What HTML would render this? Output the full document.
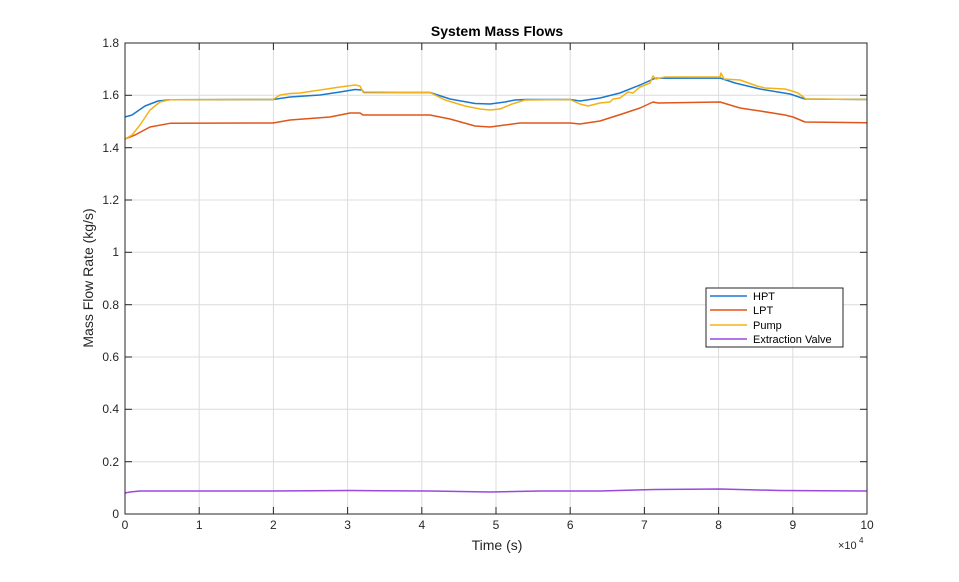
<!DOCTYPE html>
<html><head><style>body{margin:0;background:#fff}svg text{font-family:"Liberation Sans",Arial,sans-serif}</style></head><body>
<svg width="959" height="577" viewBox="0 0 959 577" xmlns="http://www.w3.org/2000/svg">
<rect width="959" height="577" fill="#fff"/>
<g stroke="#dcdcdc" stroke-width="1">
<line x1="199.2" y1="43" x2="199.2" y2="514"/><line x1="273.4" y1="43" x2="273.4" y2="514"/><line x1="347.6" y1="43" x2="347.6" y2="514"/><line x1="421.8" y1="43" x2="421.8" y2="514"/><line x1="496" y1="43" x2="496" y2="514"/><line x1="570.2" y1="43" x2="570.2" y2="514"/><line x1="644.4" y1="43" x2="644.4" y2="514"/><line x1="718.6" y1="43" x2="718.6" y2="514"/><line x1="792.8" y1="43" x2="792.8" y2="514"/>
<line x1="125" y1="461.7" x2="867" y2="461.7"/><line x1="125" y1="409.3" x2="867" y2="409.3"/><line x1="125" y1="357" x2="867" y2="357"/><line x1="125" y1="304.7" x2="867" y2="304.7"/><line x1="125" y1="252.3" x2="867" y2="252.3"/><line x1="125" y1="200" x2="867" y2="200"/><line x1="125" y1="147.7" x2="867" y2="147.7"/><line x1="125" y1="95.3" x2="867" y2="95.3"/>
</g>
<g fill="none" stroke-width="1.5" stroke-linejoin="round">
<polyline stroke="#9a48de" points="125,493 130,492 140,491 270,491 350,490.5 430,491 490,492 540,491 600,491 655,489.5 720,489 780,490.5 867,491"/>
<polyline stroke="#e0561a" points="125,139 135,135 150,127 170,123.3 273,123 290,120 330,117 350,113 360,113 363,115 430,115 450,119 475,126 490,127 505,125 520,123 570,123 580,124 600,121 625,113 640,108 653,102 658,103 720,102 740,108 760,111 785,115 793,117 805,122 867,122.8"/>
<polyline stroke="#1a78d0" points="125,117 132,115 145,106 158,101 170,99.7 273,99.5 290,97 320,95 340,92 355,89.5 362,90 364,92.5 430,92.5 450,99 475,103.5 490,104 505,102 515,100 525,99.5 570,99.5 580,101 600,98 620,93 640,85 655,78.3 720,78 735,83 760,89 790,94 805,99 867,99.5"/>
<polyline stroke="#f2b316" points="125,139 132,135 140,125 150,110 160,102 170,99.7 273,99.5 280,95 290,93.5 300,93 320,90 340,87 355,85 360,86 363,92 430,92.5 445,100 465,106 480,109 490,110 500,109 512,104 525,100 570,99.5 580,104 588,106 600,103 610,102 613,99 620,98 628,92 633,93 640,87 650,83 653,76 656,79 660,78 665,77 720,77 721,73 724,79 740,80 757,86 765,88 785,89 792,91 798,93 806,99 867,99.5"/>
</g>
<rect x="125" y="43" width="742" height="471" fill="none" stroke="#262626" stroke-width="1"/>
<g stroke="#262626" stroke-width="1">
<line x1="199.2" y1="514" x2="199.2" y2="507"/><line x1="273.4" y1="514" x2="273.4" y2="507"/><line x1="347.6" y1="514" x2="347.6" y2="507"/><line x1="421.8" y1="514" x2="421.8" y2="507"/><line x1="496" y1="514" x2="496" y2="507"/><line x1="570.2" y1="514" x2="570.2" y2="507"/><line x1="644.4" y1="514" x2="644.4" y2="507"/><line x1="718.6" y1="514" x2="718.6" y2="507"/><line x1="792.8" y1="514" x2="792.8" y2="507"/>
<line x1="199.2" y1="43" x2="199.2" y2="50"/><line x1="273.4" y1="43" x2="273.4" y2="50"/><line x1="347.6" y1="43" x2="347.6" y2="50"/><line x1="421.8" y1="43" x2="421.8" y2="50"/><line x1="496" y1="43" x2="496" y2="50"/><line x1="570.2" y1="43" x2="570.2" y2="50"/><line x1="644.4" y1="43" x2="644.4" y2="50"/><line x1="718.6" y1="43" x2="718.6" y2="50"/><line x1="792.8" y1="43" x2="792.8" y2="50"/>
<line x1="125" y1="461.7" x2="132" y2="461.7"/><line x1="125" y1="409.3" x2="132" y2="409.3"/><line x1="125" y1="357" x2="132" y2="357"/><line x1="125" y1="304.7" x2="132" y2="304.7"/><line x1="125" y1="252.3" x2="132" y2="252.3"/><line x1="125" y1="200" x2="132" y2="200"/><line x1="125" y1="147.7" x2="132" y2="147.7"/><line x1="125" y1="95.3" x2="132" y2="95.3"/>
<line x1="860" y1="461.7" x2="867" y2="461.7"/><line x1="860" y1="409.3" x2="867" y2="409.3"/><line x1="860" y1="357" x2="867" y2="357"/><line x1="860" y1="304.7" x2="867" y2="304.7"/><line x1="860" y1="252.3" x2="867" y2="252.3"/><line x1="860" y1="200" x2="867" y2="200"/><line x1="860" y1="147.7" x2="867" y2="147.7"/><line x1="860" y1="95.3" x2="867" y2="95.3"/>
</g>
<g font-size="12" fill="#262626" text-anchor="middle">
<text x="125" y="529">0</text><text x="199.2" y="529">1</text><text x="273.4" y="529">2</text><text x="347.6" y="529">3</text><text x="421.8" y="529">4</text><text x="496" y="529">5</text><text x="570.2" y="529">6</text><text x="644.4" y="529">7</text><text x="718.6" y="529">8</text><text x="792.8" y="529">9</text><text x="867" y="529">10</text>
</g>
<g font-size="12" fill="#262626" text-anchor="end">
<text x="119" y="518">0</text><text x="119" y="466">0.2</text><text x="119" y="413">0.4</text><text x="119" y="361">0.6</text><text x="119" y="309">0.8</text><text x="119" y="256">1</text><text x="119" y="204">1.2</text><text x="119" y="152">1.4</text><text x="119" y="99">1.6</text><text x="119" y="47">1.8</text>
</g>
<text x="838" y="549" font-size="11" fill="#262626">×10</text><text x="859" y="543" font-size="8" fill="#262626">4</text>
<text x="497" y="550" font-size="14" fill="#262626" text-anchor="middle">Time (s)</text>
<text transform="translate(93,278) rotate(-90)" font-size="14" fill="#262626" text-anchor="middle">Mass Flow Rate (kg/s)</text>
<text x="497" y="36" font-size="14" font-weight="bold" fill="#000" text-anchor="middle">System Mass Flows</text>
<rect x="706" y="288" width="137" height="59" fill="#fff" stroke="#262626" stroke-width="1"/>
<g stroke-width="1.5">
<line x1="710" y1="296" x2="747" y2="296" stroke="#1a78d0"/>
<line x1="710" y1="310" x2="747" y2="310" stroke="#e0561a"/>
<line x1="710" y1="325" x2="747" y2="325" stroke="#f2b316"/>
<line x1="710" y1="339" x2="747" y2="339" stroke="#9a48de"/>
</g>
<g font-size="11" fill="#000">
<text x="753" y="300">HPT</text><text x="753" y="314">LPT</text><text x="753" y="329">Pump</text><text x="753" y="343">Extraction Valve</text>
</g>
</svg>
</body></html>
